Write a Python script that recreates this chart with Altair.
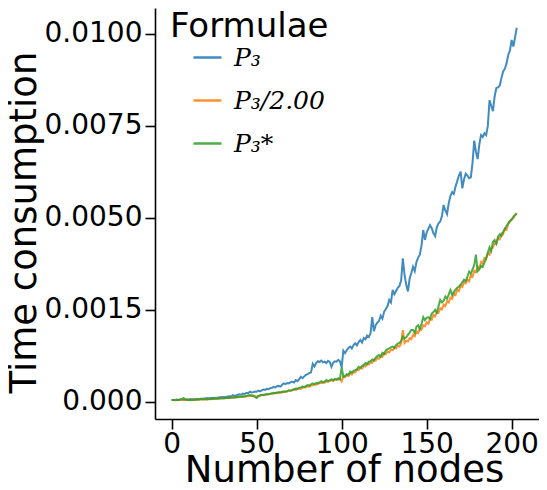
import altair as alt
import pandas as pd

# ---- data (time in units of 1e-4 s) ----
nodes = list(range(204))

p3 = [
    0.5, 0.5, 0.5, 0.6, 0.5, 0.6, 0.6, 0.5, 0.6, 0.6,
    0.6, 0.7, 0.6, 0.7, 0.7, 0.8, 0.7, 0.8, 0.8, 0.9,
    0.9, 1.0, 0.9, 1.0, 1.0, 1.1, 1.0, 1.1, 1.2, 1.2,
    1.3, 1.2, 1.3, 1.4, 1.5, 1.4, 1.8, 1.6, 1.7, 1.9,
    2.0, 1.9, 2.2, 2.1, 2.4, 2.3, 2.7, 2.5, 2.6, 2.8,
    2.7, 3.0, 2.8, 3.1, 3.3, 3.2, 3.5, 3.4, 3.7, 3.8,
    4.0, 3.9, 4.2, 4.3, 4.1, 4.6, 5.0, 4.8, 5.1, 5.0,
    5.3, 5.4, 5.2, 5.9, 5.6, 6.1, 6.8, 6.4, 6.9, 7.3,
    7.5, 7.8, 8.0, 10.3, 9.6, 10.5, 11.0, 10.8, 11.2, 10.7,
    10.9, 10.5, 11.1, 10.8, 9.5, 10.6, 11.0, 10.9, 11.4, 11.0,
    9.4, 13.9, 13.2, 14.0, 14.6, 15.0, 14.5, 15.4, 15.9, 15.3,
    16.2, 16.8, 16.1, 17.3, 17.0, 18.0, 17.6, 18.6, 23.0, 19.2,
    20.8, 21.5, 22.0, 23.4, 22.6, 24.5, 25.2, 26.0, 27.7, 27.0,
    30.4, 29.2, 30.1, 31.0, 31.5, 33.0, 39.0, 34.5, 31.8, 30.0,
    33.5, 35.0, 36.7, 35.5, 38.0, 39.2, 40.0, 42.5, 46.7, 44.0,
    46.0, 47.0, 48.0, 47.2, 45.8, 45.0, 47.5, 48.5, 49.0, 50.5,
    53.5, 52.0, 51.0, 54.0, 56.0, 57.0, 56.5, 58.5, 60.0, 61.5,
    62.6, 58.0, 60.5, 62.0, 61.5, 60.8, 61.0, 65.0, 71.0, 68.0,
    66.0, 70.0, 72.5, 72.0, 73.0, 72.5, 75.0, 82.0, 80.5, 79.0,
    83.0, 85.3, 85.5, 86.0, 88.0, 89.8, 90.5, 92.0, 94.3, 95.5,
    98.4, 96.6, 99.0, 101.7,
]

p3_half = [
    0.4, 0.5, 0.5, 0.4, 0.5, 0.5, 0.6, 0.5, 0.5, 0.6,
    0.5, 0.5, 0.6, 0.5, 0.6, 0.6, 0.5, 0.7, 0.6, 0.7,
    0.6, 0.7, 0.7, 0.8, 0.7, 0.8, 0.8, 0.9, 0.9, 0.9,
    1.0, 0.9, 1.0, 1.1, 1.0, 1.1, 1.2, 1.1, 1.2, 1.3,
    1.3, 1.4, 1.3, 1.5, 1.4, 1.6, 1.5, 1.6, 1.7, 1.5,
    1.3, 1.6, 1.7, 1.8, 1.9, 1.8, 2.0, 2.1, 2.1, 2.2,
    2.2, 2.4, 2.3, 2.5, 2.6, 2.5, 2.7, 2.8, 2.8, 3.0,
    3.0, 3.1, 3.3, 3.2, 3.5, 3.6, 3.5, 3.8, 4.0, 3.9,
    4.2, 4.1, 4.4, 4.5, 4.7, 4.6, 4.9, 5.0, 5.1, 5.3,
    5.2, 5.5, 5.4, 5.7, 5.8, 5.6, 6.0, 6.1, 6.0, 6.3,
    5.5, 6.8, 6.7, 7.2, 7.0, 7.7, 7.4, 8.1, 8.0, 8.7,
    8.6, 9.3, 9.0, 9.8, 9.6, 10.3, 10.1, 10.8, 10.6, 11.4,
    11.2, 11.9, 11.7, 12.5, 12.2, 13.1, 12.9, 13.7, 13.4, 14.2,
    14.0, 14.7, 14.5, 15.3, 15.0, 15.9, 19.5, 16.0, 16.6, 16.4,
    17.3, 17.0, 18.2, 17.8, 19.1, 18.7, 19.9, 19.6, 20.8, 20.5,
    21.6, 21.2, 22.6, 22.3, 23.6, 23.2, 24.5, 24.2, 25.4, 25.1,
    26.4, 26.0, 27.3, 27.0, 28.3, 28.0, 29.4, 29.0, 30.5, 30.1,
    31.5, 31.2, 32.6, 32.2, 33.2, 32.8, 34.4, 34.0, 35.6, 35.2,
    36.8, 36.3, 38.0, 37.6, 39.1, 38.8, 40.4, 40.0, 41.7, 41.9,
    43.3, 43.0, 44.6, 44.2, 45.8, 45.6, 47.1, 46.8, 48.4, 48.9,
    49.7, 49.9, 50.7, 51.0,
]

p3_star = [
    0.5, 0.5, 0.4, 0.5, 0.5, 0.6, 0.7, 1.0, 0.6, 0.5,
    0.4, 0.5, 0.5, 0.6, 0.5, 0.6, 0.6, 0.7, 0.6, 0.7,
    0.7, 0.6, 0.8, 0.7, 0.8, 0.8, 0.9, 0.8, 0.9, 1.0,
    0.9, 1.0, 1.0, 1.1, 1.0, 1.2, 1.1, 1.2, 1.3, 1.2,
    1.4, 1.3, 1.5, 1.4, 1.6, 1.7, 1.8, 1.7, 1.6, 1.3,
    1.0, 1.5, 1.7, 1.9, 1.8, 2.0, 2.1, 2.0, 2.2, 2.3,
    2.4, 2.3, 2.5, 2.6, 2.5, 2.7, 2.8, 2.7, 2.9, 3.1,
    3.0, 3.2, 3.4, 3.6, 3.5, 3.8, 3.9, 4.1, 4.0, 4.3,
    4.5, 4.4, 4.7, 5.0, 4.8, 5.1, 5.0, 5.3, 5.6, 5.2,
    5.5, 5.9, 5.6, 5.8, 6.1, 5.9, 6.2, 6.0, 6.4, 6.1,
    9.4, 6.8, 7.0, 7.5, 7.3, 8.2, 7.9, 8.4, 8.6, 8.8,
    9.5, 9.2, 9.7, 10.0, 10.5, 10.2, 10.9, 11.0, 11.5, 11.2,
    12.0, 12.4, 12.7, 12.2, 13.3, 13.0, 14.0, 14.3, 14.5, 14.8,
    15.0, 14.6, 15.4, 15.8, 16.0, 16.5, 17.7, 17.2, 17.5, 18.2,
    18.8, 19.5, 19.5, 18.7, 20.4, 20.8, 19.8, 21.2, 23.0, 22.2,
    22.8, 23.0, 22.5, 24.0, 24.4, 25.0, 24.2, 26.0, 27.7, 27.0,
    27.5, 28.6, 28.0, 29.2, 30.4, 29.0, 29.8, 30.5, 31.0, 31.3,
    31.8, 32.5, 33.2, 32.8, 34.0, 35.4, 34.8, 36.0, 37.2, 40.0,
    35.5, 36.0, 37.0, 36.7, 37.8, 39.0, 40.5, 42.0, 41.0, 43.5,
    44.0, 43.0, 44.8, 45.5, 45.0, 46.2, 47.0, 47.8, 48.5, 49.2,
    49.5, 50.3, 50.8, 51.3,
]

formula_names = ["P\u2083", "P\u2083/2.00", "P\u2083*"]
colors = ["#1f77b4", "#ff7f0e", "#2ca02c"]
x_tick_values = [0, 50, 100, 150, 200]
y_tick_values = [0, 25, 50, 75, 100]
y_tick_labels = ["0.000", "0.0015", "0.0050", "0.0075", "0.0100"]

for s in (p3, p3_half, p3_star):
    assert len(s) == len(nodes), len(s)

rows = []
for k, (name, series) in enumerate(zip(formula_names, [p3, p3_half, p3_star])):
    for n, v in zip(nodes, series):
        rows.append({"nodes": n, "time": v, "formula": name, "k": k})
df = pd.DataFrame(rows)

label_expr = " : ".join(
    f"datum.value == {v} ? '{l}'" for v, l in zip(y_tick_values, y_tick_labels)
) + " : ''"

chart = (
    alt.Chart(df)
    .mark_line(strokeWidth=2, opacity=0.85)
    .encode(
        x=alt.X(
            "nodes:Q",
            scale=alt.Scale(domain=[-9.8, 216.1], nice=False, zero=False),
            axis=alt.Axis(
                values=x_tick_values,
                title="Number of nodes",
                titleX=189,
                titleY=62,
                titleBaseline="alphabetic",
                titleAlign="center",
                labelPadding=1,
            ),
        ),
        y=alt.Y(
            "time:Q",
            scale=alt.Scale(domain=[-4.7, 107.07], nice=False, zero=False),
            axis=alt.Axis(
                values=y_tick_values,
                labelExpr=label_expr,
                title="Time consumption",
                titleX=-120,
                titleY=214,
                titleAngle=-90,
                titleBaseline="alphabetic",
                titleAlign="center",
                labelPadding=3,
            ),
        ),
        color=alt.Color(
            "formula:N",
            scale=alt.Scale(domain=formula_names, range=colors),
            sort=formula_names,
            legend=alt.Legend(
                title="Formulae",
                orient="none",
                legendX=15,
                legendY=2,
                padding=0,
                titleFont="DejaVu Sans",
                titleFontSize=34,
                titleFontWeight="normal",
                titleColor="black",
                titleLimit=400,
                titlePadding=-2,
                labelFont="DejaVu Serif",
                labelFontStyle="italic",
                labelFontSize=25,
                labelColor="black",
                labelLimit=300,
                symbolType="stroke",
                symbolSize=784,
                symbolStrokeWidth=2.5,
                symbolOffset=22,
                labelOffset=11,
                rowPadding=14,
            ),
        ),
        detail="k:N",
        order="k:Q",
    )
    .properties(
        width=384,
        height=411,
        autosize=alt.AutoSizeParams(type="none"),
        padding={"left": 147, "top": 0, "right": 0, "bottom": 63},
    )
    .configure_view(strokeWidth=0)
    .configure_axis(
        grid=False,
        domainColor="black",
        domainWidth=1.6,
        tickColor="black",
        tickWidth=1.6,
        tickSize=10,
        labelFont="DejaVu Sans",
        labelFontSize=28,
        labelColor="black",
        titleFont="DejaVu Sans",
        titleFontSize=37,
        titleFontWeight="normal",
        titleColor="black",
    )
)

chart.save("out.html", embed_options={"renderer": "svg", "actions": False})
